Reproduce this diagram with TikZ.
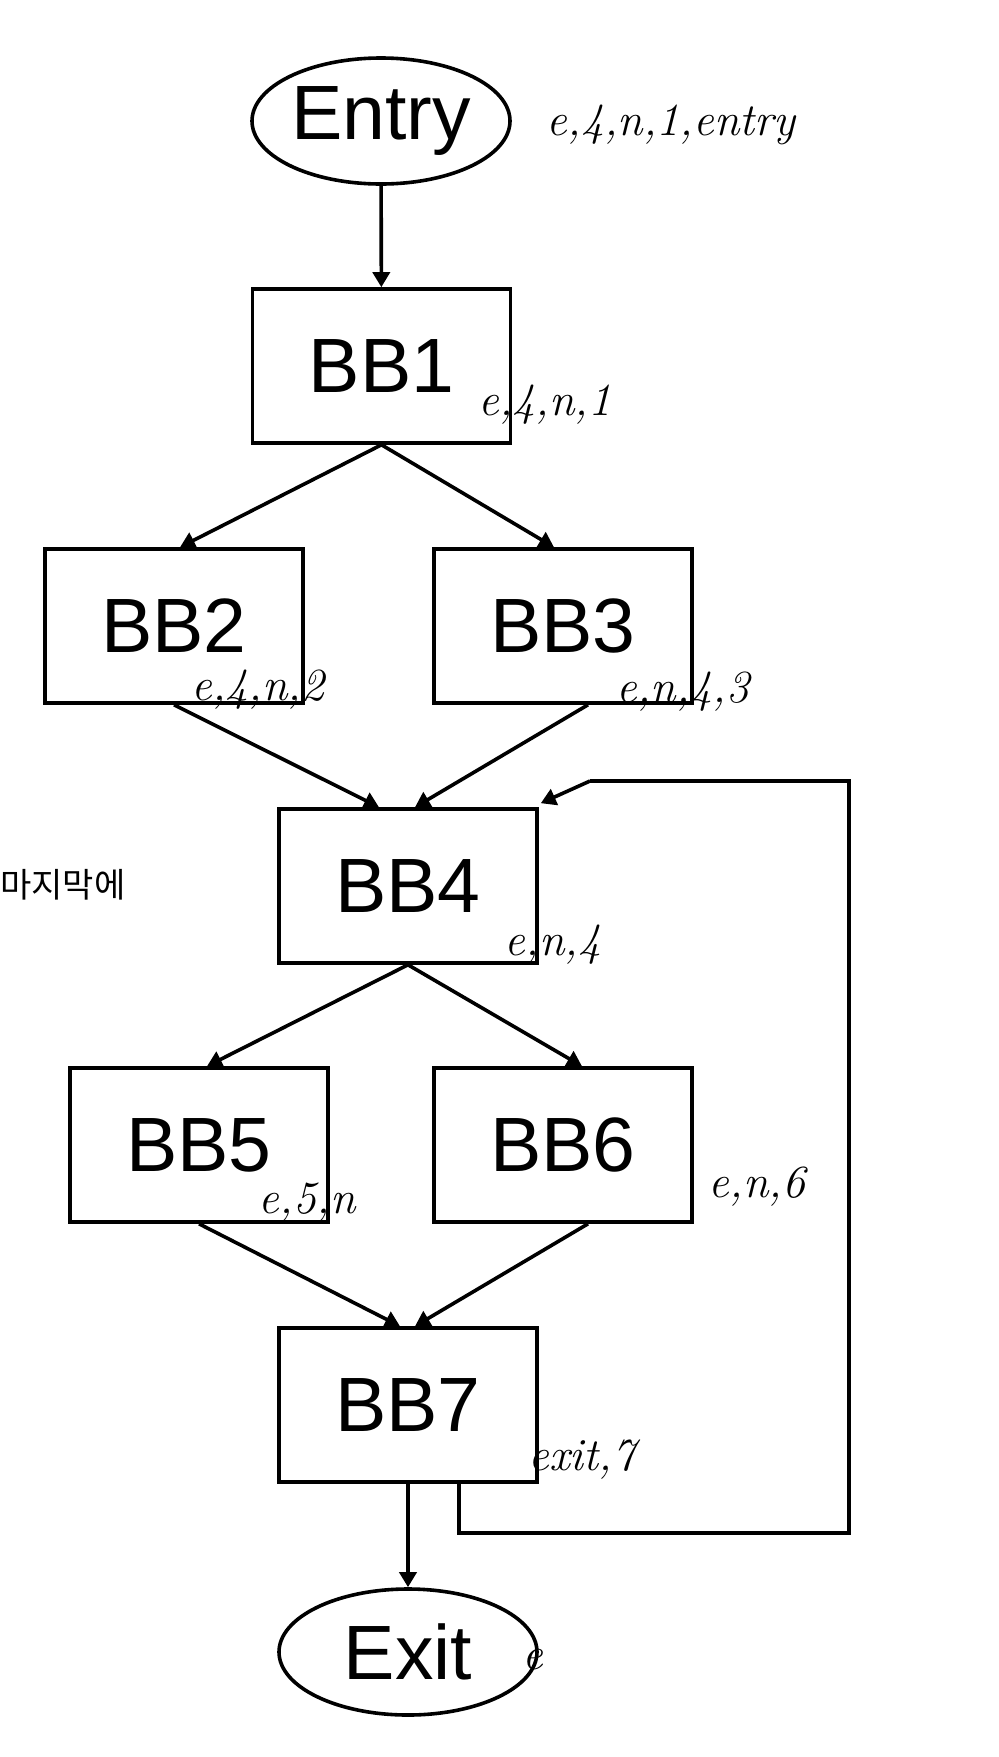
\documentclass[tikz,border=0pt]{standalone}
\usepackage{fontspec}
\setmainfont{Liberation Sans}
\newfontfamily\hangul{Noto Sans CJK KR}
\newfontfamily\handw{Latin Modern Roman}
\usetikzlibrary{positioning,arrows.meta,calc,shapes.geometric}
\tikzset{
  blk/.style={draw=black,line width=3.6pt,minimum width=258pt,minimum height=154pt,
              inner sep=0pt,font=\fontsize{77}{80}\selectfont},
  term/.style={blk,ellipse,minimum width=258pt,minimum height=126pt},
  flow/.style={-{Triangle[length=15pt,width=17pt]},line width=3.6pt},
  loopln/.style={line width=3.6pt},
  hand/.style={font=\handw\itshape\fontsize{46}{48}\selectfont,inner sep=0pt},
}

\begin{document}
\begin{tikzpicture}[x=1pt,y=-1pt]
  \useasboundingbox (0,0) rectangle (999,1757);
  % ===== blocks =====
  \node[term] (entry) at (381,121)  {Entry};
  \node[blk]  (bb1)   at (381.5,366) {BB1};
  \node[blk]  (bb2)   at (174,626)  {BB2};
  \node[blk]  (bb3)   at (563,626)  {BB3};
  \node[blk]  (bb4)   at (408,886)  {BB4};
  \node[blk]  (bb5)   at (199,1145) {BB5};
  \node[blk]  (bb6)   at (563,1145) {BB6};
  \node[blk]  (bb7)   at (408,1405) {BB7};
  \node[term] (exit)  at (408,1652) {Exit};

  % ===== edges =====
  \draw[flow] (entry) -- (bb1);
  \draw[flow] (bb1.south) -- ($(bb2.north)+(6,0)$);
  \draw[flow] (bb1.south) -- ($(bb3.north)+(-9,0)$);
  \draw[flow] (bb2.south) -- ($(bb4.north)+(-29,0)$);
  \draw[flow] ($(bb3.south)+(25,0)$) -- ($(bb4.north)+(7,0)$);
  \draw[flow] (bb4.south) -- ($(bb5.north)+(8,0)$);
  \draw[flow] (bb4.south) -- ($(bb6.north)+(19,0)$);
  \draw[flow] (bb5.south) -- ($(bb7.north)+(-8,0)$);
  \draw[flow] ($(bb6.south)+(25,0)$) -- ($(bb7.north)+(7,0)$);
  \draw[flow] (bb7) -- (exit);

  % back edge bb7 -> bb4
  \coordinate (lp1) at ($(bb7.south)+(51,0)$);
  \coordinate (lp2) at (849,1533);
  \coordinate (lp3) at (849,781);
  \coordinate (lp4) at (590,781);
  \draw[loopln] (lp1) |- (lp2) -- (lp3) -- (lp4);
  \draw[flow] (lp4) -- ($(bb4.north east)+(2,-4)$);

  % ===== notes =====
  \node[hand] (n0) at (671,125)  {e,4,n,1,entry};
  \node[hand] (n1) at (545,405)  {e,4,n,1};
  \node[hand] (n2) at (258,690)  {e,4,n,2};
  \node[hand] (n3) at (683,692)  {e,n,4,3};
  \node[hand] (n4) at (553,945)  {e,n,4};
  \node[hand] (n5) at (307,1203) {e,5,n};
  \node[hand] (n6) at (757,1187) {e,n,6};
  \node[hand] (n7) at (582,1460) {exit,7};
  \node[hand] (n8) at (533,1660) {e};
  \node[font=\hangul\fontsize{34}{36}\selectfont,anchor=west,inner sep=0pt] (kor) at (0,885) {마지막에};
\end{tikzpicture}
\end{document}
